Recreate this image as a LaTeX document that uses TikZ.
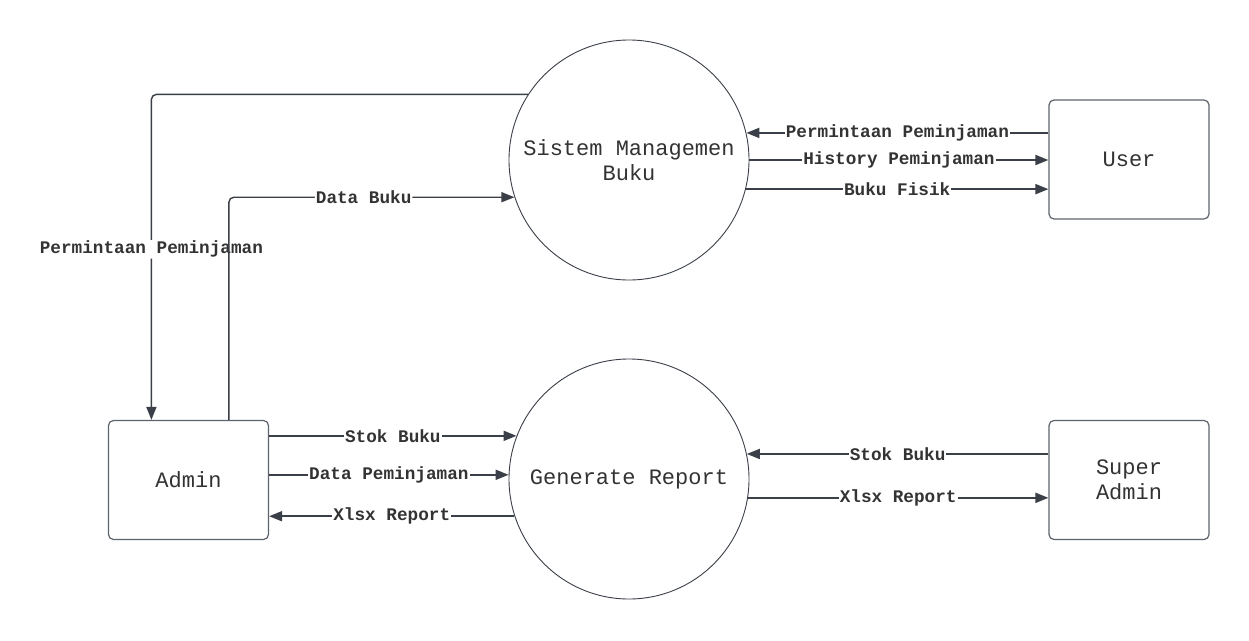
\documentclass[tikz,border=0pt]{standalone}
\usepackage{fontspec}
\usetikzlibrary{arrows.meta,calc}
\newfontfamily\dfdmono{Liberation Mono}
\definecolor{linec}{HTML}{3A3F48}
\definecolor{textc}{HTML}{333333}
\definecolor{boxc}{HTML}{5E636B}
\tikzset{
  proc/.style={circle, draw=linec, line width=0.9pt, minimum size=240pt, inner sep=0pt, align=center, font=\dfdmono\fontsize{22}{25}\selectfont, text=textc},
  ent/.style={draw=boxc, line width=1.2pt, rounded corners=5pt, minimum width=160pt, minimum height=119pt, inner sep=0pt, align=center, font=\dfdmono\fontsize{22}{25}\selectfont, text=textc},
  flow/.style={draw=linec, line width=1.8pt, -{Triangle[length=13pt,width=10pt]}},
  lbl/.style={fill=white, inner sep=1pt, text=textc, font=\dfdmono\bfseries\fontsize{17.7}{20}\selectfont}
}
\begin{document}
\begin{tikzpicture}[x=1pt,y=-1pt]
\fill[white] (0,0) rectangle (1249,640);
\useasboundingbox (0,0) rectangle (1249,640);

\node[proc] (sys) at (629,160) {Sistem Managemen\\Buku};
\node[proc] (gen) at (629,479) {Generate Report};
\node[ent] (user) at (1129,159.5) {User};
\node[ent] (admin) at (188.5,480) {Admin};
\node[ent] (sadmin) at (1129,480) {Super\\Admin};

\coordinate (pa) at ($(admin.north west)+(43.5,0)$);
\coordinate (db) at ($(admin.north west)+(121,0)$);

% Sistem <-> User
\draw[flow] (user.west |- sys.13) -- (sys.13) node[lbl, pos=0.5] {Permintaan Peminjaman};
\draw[flow] (sys.0) -- (user.west |- sys.0) node[lbl, pos=0.5] {History Peminjaman};
\draw[flow] (sys.-14) -- (user.west |- sys.-14) node[lbl, pos=0.5] {Buku Fisik};

% Sistem <-> Admin
\draw[flow, line width=1.4pt, rounded corners=5pt] (sys.147.8) -| (pa) node[lbl, pos=0.738] {Permintaan Peminjaman};
\draw[flow, line width=1.4pt, rounded corners=5pt] (db) |- (sys.198) node[lbl, pos=0.736] {Data Buku};

% Admin <-> Generate
\draw[flow] (admin.east |- gen.159.5) -- (gen.159.5) node[lbl, pos=0.5] {Stok Buku};
\draw[flow] (admin.east |- gen.178.1) -- (gen.178.1) node[lbl, pos=0.5] {Data Peminjaman};
\draw[flow] (gen.198.5) -- (admin.east |- gen.198.5) node[lbl, pos=0.5] {Xlsx Report};

% Generate <-> Super Admin
\draw[flow] (sadmin.west |- gen.12) -- (gen.12) node[lbl, pos=0.5] {Stok Buku};
\draw[flow] (gen.-9.1) -- (sadmin.west |- gen.-9.1) node[lbl, pos=0.5] {Xlsx Report};
\end{tikzpicture}
\end{document}
